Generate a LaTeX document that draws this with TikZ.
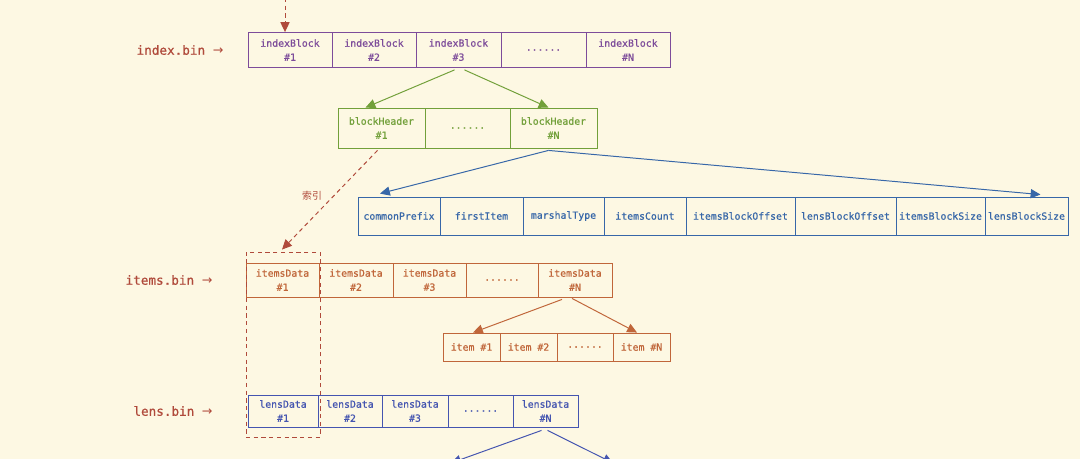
\documentclass[tikz,border=0pt]{standalone}
\usepackage{fontspec}
\setmonofont{DejaVu Sans Mono}
\newfontfamily\handmono[FakeBold=0.6]{DejaVu Sans Mono}
\newfontfamily\arrowfont{DejaVu Sans}
\newfontfamily\cjk{Noto Sans CJK SC}
\usetikzlibrary{arrows.meta,calc}

\definecolor{paper}{HTML}{FDF8E3}
\definecolor{binred}{HTML}{B04A3B}
\definecolor{idxpurple}{HTML}{7D4C9A}
\definecolor{hdrgreen}{HTML}{72A03A}
\definecolor{hdrblue}{HTML}{3767A8}
\definecolor{itorange}{HTML}{C0663A}
\definecolor{lnblue}{HTML}{4455B0}

\begin{document}
\begin{tikzpicture}[x=0.025cm, y=-0.025cm,
    cell/.style={draw, line width=0.6pt, inner sep=0pt, align=center,
                 font=\handmono\fontsize{7}{10}\selectfont},
    binlabel/.style={text=binred, font=\handmono\fontsize{9}{11}\selectfont},
    link/.style={-{Triangle[length=7pt,width=6.5pt]}, line width=0.7pt},
    ref/.style={link, dash pattern=on 3pt off 2.5pt}]
    \clip (0,0) rectangle (1080,459);
    \fill[paper] (0,0) rectangle (1080,459);

    % index.bin
    \node[binlabel] (lidx) at (180, 50) {index.bin {\arrowfont →}};
    \begin{scope}[idxpurple, every node/.append style={minimum height=0.875cm}]
    \node[cell, minimum width=2.1cm] (idx1) at (290, 50) {indexBlock\\\#1};
    \node[cell, minimum width=2.1cm] (idx2) at (374, 50) {indexBlock\\\#2};
    \node[cell, minimum width=2.125cm] (idx3) at (458.5, 50) {indexBlock\\\#3};
    \node[cell, minimum width=2.125cm] (idxd) at (543.5, 50) {......};
    \node[cell, minimum width=2.1cm] (idxN) at (628, 50) {indexBlock\\\#N};
    \end{scope}
    \coordinate (entry) at (285, -2);
    \draw[ref, binred] (entry) -- (entry |- idx1.north);

    % block headers
    \begin{scope}[hdrgreen, every node/.append style={minimum height=1cm}]
    \node[cell, minimum width=2.175cm] (bh1) at (381.5, 128) {blockHeader\\\#1};
    \node[cell, minimum width=2.125cm] (bhd) at (467.5, 128) {......};
    \node[cell, minimum width=2.175cm] (bhN) at (553.5, 128) {blockHeader\\\#N};
    \end{scope}
    \draw[link, hdrgreen] ($(idx3.south)+(-4,2)$) -- ($(bh1.north)+(-16,0)$);
    \draw[link, hdrgreen] ($(idx3.south)+(6,2)$) -- ($(bhN.north)+(-5,0)$);

    % header fields
    \begin{scope}[hdrblue, every node/.append style={minimum height=0.95cm}]
    \node[cell, minimum width=2.05cm] (cp) at (399, 216) {commonPrefix};
    \node[cell, minimum width=2.075cm] (fi) at (481.5, 216) {firstItem};
    \node[cell, minimum width=2.025cm] (mt) at (563.5, 216) {marshalType};
    \node[cell, minimum width=2.05cm] (ic) at (645, 216) {itemsCount};
    \node[cell, minimum width=2.725cm] (ibo) at (740.5, 216) {itemsBlockOffset};
    \node[cell, minimum width=2.525cm] (lbo) at (845.5, 216) {lensBlockOffset};
    \node[cell, minimum width=2.225cm] (ibs) at (940.5, 216) {itemsBlockSize};
    \node[cell, minimum width=2.075cm] (lbs) at (1026.5, 216) {lensBlockSize};
    \end{scope}
    \draw[link, hdrblue] ($(bhN.south)+(-5,2)$) -- ($(cp.north)+(-19,-3)$);
    \draw[link, hdrblue] ($(bhN.south)+(-5,2)$) -- ($(lbs.north)+(14,-2)$);

    % items.bin
    \node[binlabel] (litems) at (169, 280) {items.bin {\arrowfont →}};
    \begin{scope}[itorange, every node/.append style={minimum height=0.85cm}]
    \node[cell, minimum width=1.825cm] (it1) at (282.5, 280) {itemsData\\\#1};
    \node[cell, minimum width=1.85cm] (it2) at (356, 280) {itemsData\\\#2};
    \node[cell, minimum width=1.825cm] (it3) at (429.5, 280) {itemsData\\\#3};
    \node[cell, minimum width=1.8cm] (itd) at (502, 280) {......};
    \node[cell, minimum width=1.85cm] (itN) at (575, 280) {itemsData\\\#N};
    \end{scope}

    % items
    \begin{scope}[itorange, every node/.append style={minimum height=0.7cm}]
    \node[cell, minimum width=1.425cm] (el1) at (471.5, 347) {item \#1};
    \node[cell, minimum width=1.425cm] (el2) at (528.5, 347) {item \#2};
    \node[cell, minimum width=1.4cm] (eld) at (585, 347) {......};
    \node[cell, minimum width=1.425cm] (elN) at (641.5, 347) {item \#N};
    \end{scope}
    \draw[link, itorange] ($(itN.south)+(-13,2)$) -- ($(el1.north)+(1.5,0)$);
    \draw[link, itorange] ($(itN.south)+(-3,1)$) -- ($(elN.north)+(-4.5,0)$);

    % lens.bin
    \node[binlabel] (llens) at (173, 411) {lens.bin {\arrowfont →}};
    \begin{scope}[lnblue, every node/.append style={minimum height=0.8cm}]
    \node[cell, minimum width=1.75cm] (ln1) at (283, 411) {lensData\\\#1};
    \node[cell, minimum width=1.6cm] (ln2) at (350, 411) {lensData\\\#2};
    \node[cell, minimum width=1.65cm] (ln3) at (415, 411) {lensData\\\#3};
    \node[cell, minimum width=1.625cm] (lnd) at (480.5, 411) {......};
    \node[cell, minimum width=1.625cm] (lnN) at (545.5, 411) {lensData\\\#N};
    \end{scope}
    \coordinate (lnout1) at (451, 463);
    \coordinate (lnout2) at (613, 463);
    \draw[link, lnblue] ($(lnN.south)+(-4,3)$) -- (lnout1);
    \draw[link, lnblue] ($(lnN.south)+(2,3)$) -- (lnout2);

    % selection and index link
    \node[draw, binred, line width=0.6pt, dash pattern=on 3pt off 2.5pt,
          minimum width=1.85cm, minimum height=4.625cm] (sel) at (283, 344.5) {};
    \draw[ref, binred] ($(bh1.south)+(-4,2)$) -- ($(sel.north)+(-1,-2)$);
    \node[text=binred, font=\cjk\fontsize{7}{8}\selectfont] (idxnote) at (312, 196) {索引};
\end{tikzpicture}
\end{document}
